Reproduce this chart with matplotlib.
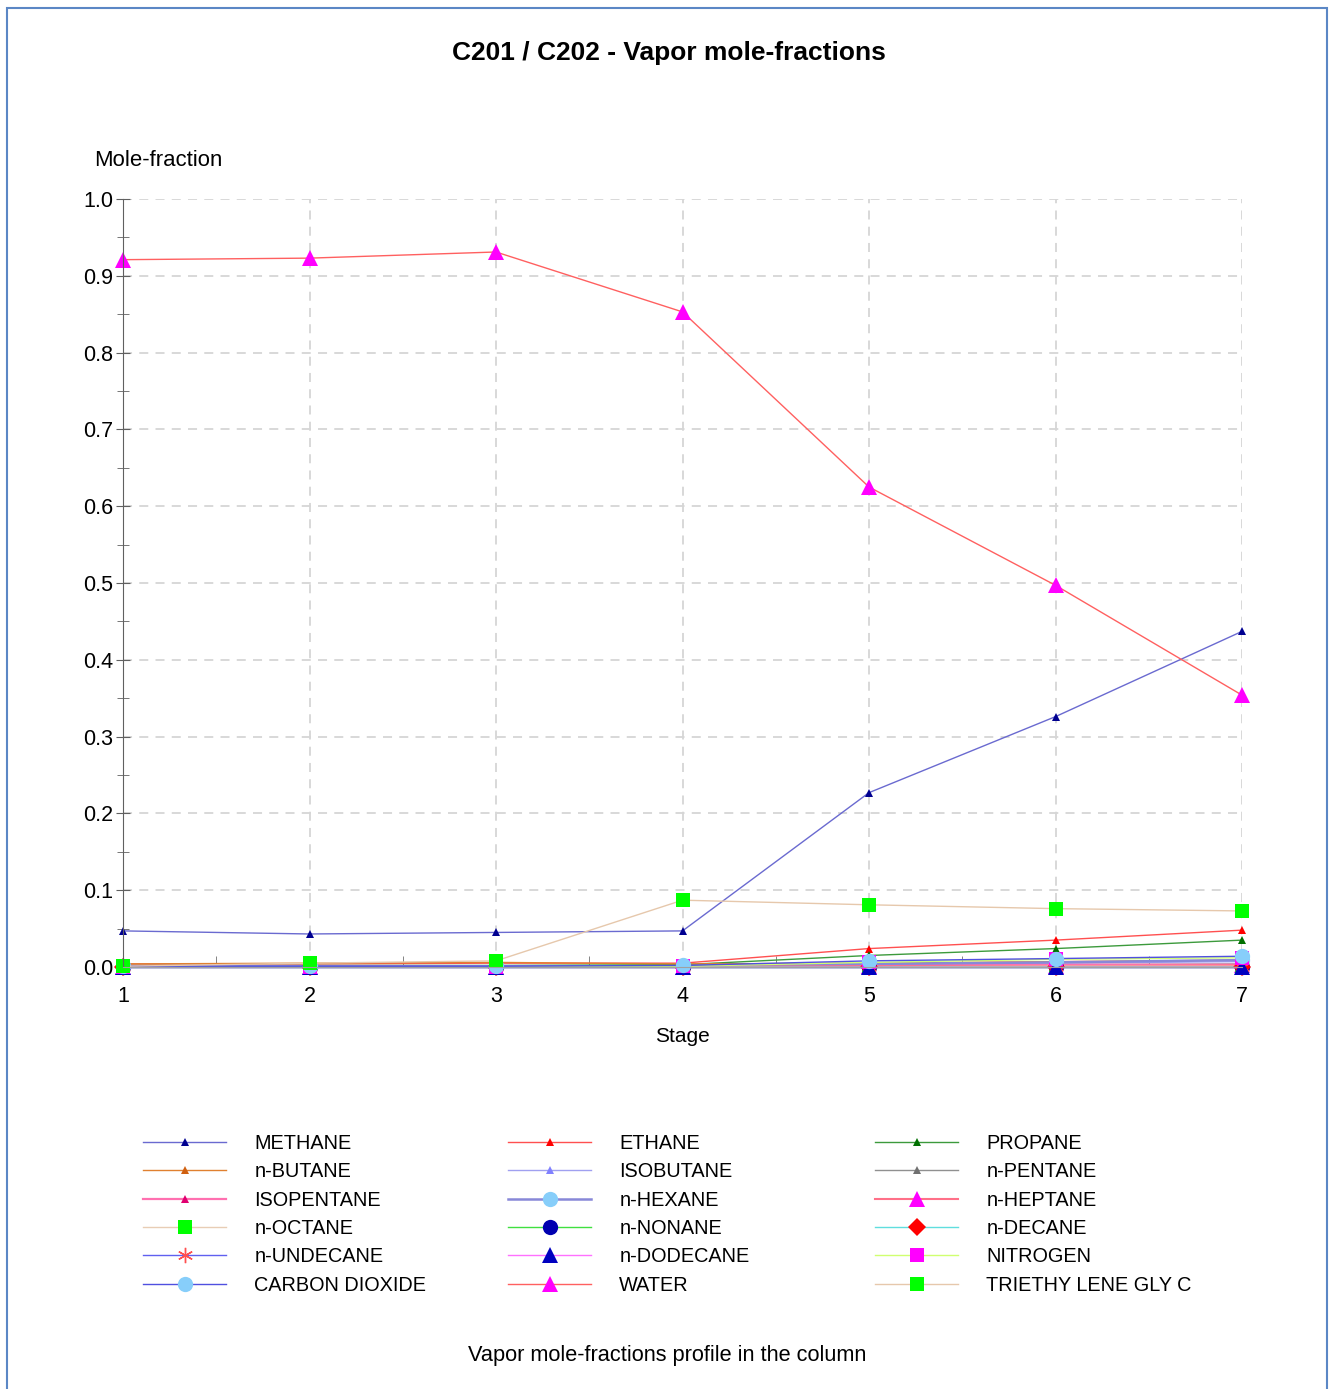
import matplotlib
matplotlib.use("Agg")
import matplotlib.pyplot as plt
from matplotlib.patches import Rectangle
from matplotlib.ticker import MultipleLocator

plt.rcParams['font.family'] = ['Liberation Sans', 'DejaVu Sans']

stages = [1, 2, 3, 4, 5, 6, 7]

methane     = [0.047, 0.043, 0.045, 0.047, 0.227, 0.326, 0.437]
ethane      = [0.004, 0.004, 0.005, 0.005, 0.024, 0.035, 0.048]
propane     = [0.002, 0.002, 0.002, 0.003, 0.015, 0.024, 0.035]
n_butane    = [0.004, 0.005, 0.006, 0.004, 0.005, 0.007, 0.009]
isobutane   = [0.001, 0.001, 0.001, 0.001, 0.003, 0.005, 0.007]
n_pentane   = [0.001, 0.001, 0.001, 0.001, 0.002, 0.003, 0.004]
isopentane  = [0.001, 0.001, 0.001, 0.001, 0.002, 0.003, 0.003]
n_hexane    = [0.001, 0.001, 0.001, 0.001, 0.004, 0.006, 0.009]
n_heptane   = [0.000, 0.000, 0.000, 0.000, 0.001, 0.001, 0.002]
n_octane    = [0.000, 0.000, 0.000, 0.000, 0.000, 0.001, 0.001]
n_nonane    = [0.000, 0.000, 0.000, 0.000, 0.000, 0.000, 0.000]
n_decane    = [0.000, 0.000, 0.000, 0.000, 0.000, 0.000, 0.000]
n_undecane  = [0.000, 0.000, 0.000, 0.000, 0.000, 0.000, 0.000]
n_dodecane  = [0.000, 0.000, 0.000, 0.000, 0.000, 0.000, 0.000]
nitrogen    = [0.000, 0.000, 0.000, 0.001, 0.006, 0.010, 0.012]
co2         = [0.001, 0.001, 0.001, 0.002, 0.008, 0.011, 0.014]
water       = [0.921, 0.923, 0.931, 0.853, 0.625, 0.497, 0.354]
teg         = [0.001, 0.005, 0.008, 0.087, 0.081, 0.076, 0.073]

names = ["METHANE", "ETHANE", "PROPANE", "n-BUTANE", "ISOBUTANE", "n-PENTANE",
         "ISOPENTANE", "n-HEXANE", "n-HEPTANE", "n-OCTANE", "n-NONANE", "n-DECANE",
         "n-UNDECANE", "n-DODECANE", "NITROGEN", "CARBON DIOXIDE", "WATER",
         "TRIETHY LENE GLY C"]
series = [methane, ethane, propane, n_butane, isobutane, n_pentane, isopentane,
          n_hexane, n_heptane, n_octane, n_nonane, n_decane, n_undecane,
          n_dodecane, nitrogen, co2, water, teg]

# (line colour, line width, marker, marker colour, marker size)
styles = [
    ("#6a6ad0", 1.0, "^", "#000090", 5.5),
    ("#ff5050", 1.0, "^", "#ff0000", 5.5),
    ("#3c9a3c", 1.0, "^", "#007000", 5.5),
    ("#e08030", 1.0, "^", "#d06010", 5.5),
    ("#a0a0f0", 1.0, "^", "#8080ff", 5.5),
    ("#909090", 1.0, "^", "#707070", 5.5),
    ("#ff70b0", 1.6, "^", "#e00070", 5.5),
    ("#8888d8", 1.8, "o", "#87cefa", 11),
    ("#ff7088", 1.5, "^", "#ff00ff", 11),
    ("#e8cdb5", 1.0, "s", "#00ff00", 10),
    ("#40e040", 1.0, "o", "#0000b0", 11),
    ("#60dede", 1.0, "D", "#ff0000", 9),
    ("#6060f0", 1.0, (6, 2, 0), "#ff5050", 11),
    ("#ff70ff", 1.0, "^", "#0000c0", 11),
    ("#d0ff70", 1.0, "s", "#ff00ff", 10),
    ("#5050e0", 1.0, "o", "#87cefa", 11),
    ("#ff6060", 1.0, "^", "#ff00ff", 11),
    ("#e6c8ac", 1.0, "s", "#00ff00", 10),
]

W, H = 1331, 1389
fig = plt.figure(figsize=(W / 100, H / 100), dpi=100)

# page border
fig.patches.append(Rectangle((7 / W, -0.05), (1327 - 7) / W, 1 - 8 / H + 0.05,
                             transform=fig.transFigure, fill=False,
                             edgecolor="#5b87c5", linewidth=1.5))

ax = fig.add_axes([123 / W, 1 - 967 / H, (1242 - 123) / W, (967 - 199) / H])

handles = []
for i in range(len(series)):
    lc, lw, mk, mc, ms = styles[i]
    mew = 1.0 if mk == (6, 2, 0) else 0
    h, = ax.plot(stages, series[i], color=lc, linewidth=lw, marker=mk,
                 markerfacecolor=mc, markeredgecolor=mc, markersize=ms,
                 markeredgewidth=mew, clip_on=False, label=names[i])
    handles.append(h)

ax.set_xlim(1, 7)
ax.set_ylim(0, 1.0)
ax.xaxis.set_major_locator(MultipleLocator(1))
ax.xaxis.set_minor_locator(MultipleLocator(0.5))
ax.yaxis.set_major_locator(MultipleLocator(0.1))
ax.yaxis.set_minor_locator(MultipleLocator(0.05))
ax.yaxis.set_major_formatter(plt.FuncFormatter(lambda v, p: f"{v:.1f}"))

for s in ["top", "right"]:
    ax.spines[s].set_visible(False)
ax.spines["left"].set_color("#606060")
ax.spines["bottom"].set_color("#a0a0a0")

ax.grid(True, which="major", color="#d6d6d6", linestyle=(0, (5, 4)), linewidth=1.3)
ax.set_axisbelow(True)

ax.tick_params(axis="x", which="major", length=0, pad=14, labelsize=15.5)
ax.tick_params(axis="x", which="minor", direction="in", length=8, color="#707070")
ax.tick_params(axis="y", which="major", direction="inout", length=10, pad=2,
               labelsize=15.5, color="#606060")
ax.tick_params(axis="y", which="minor", direction="inout", length=8, color="#606060")

fig.text(669 / W, 1 - 53 / H, "C201 / C202 - Vapor mole-fractions", ha="center",
         va="center", fontsize=19, fontweight="bold")
fig.text(94 / W, 1 - 161 / H, "Mole-fraction", ha="left", va="center", fontsize=15.9)
fig.text(682 / W, 1 - 1036 / H, "Stage", ha="center", va="center", fontsize=15)
fig.text(667 / W, 1 - 1355 / H, "Vapor mole-fractions profile in the column",
         ha="center", va="center", fontsize=15.7)

# legend: three columns, row-wise order
cols_x = [143, 508, 875]
for c in range(3):
    hs = [handles[r * 3 + c] for r in range(6)]
    fig.legend(handles=hs, labels=[h.get_label() for h in hs],
               loc="upper left", bbox_to_anchor=(cols_x[c] / W, 1 - 1134 / H),
               bbox_transform=fig.transFigure, frameon=False, fontsize=14.3,
               handlelength=4.2, handletextpad=1.4, labelspacing=0.47,
               borderpad=0, borderaxespad=0, numpoints=1)

fig.savefig("out.png", dpi=100)
